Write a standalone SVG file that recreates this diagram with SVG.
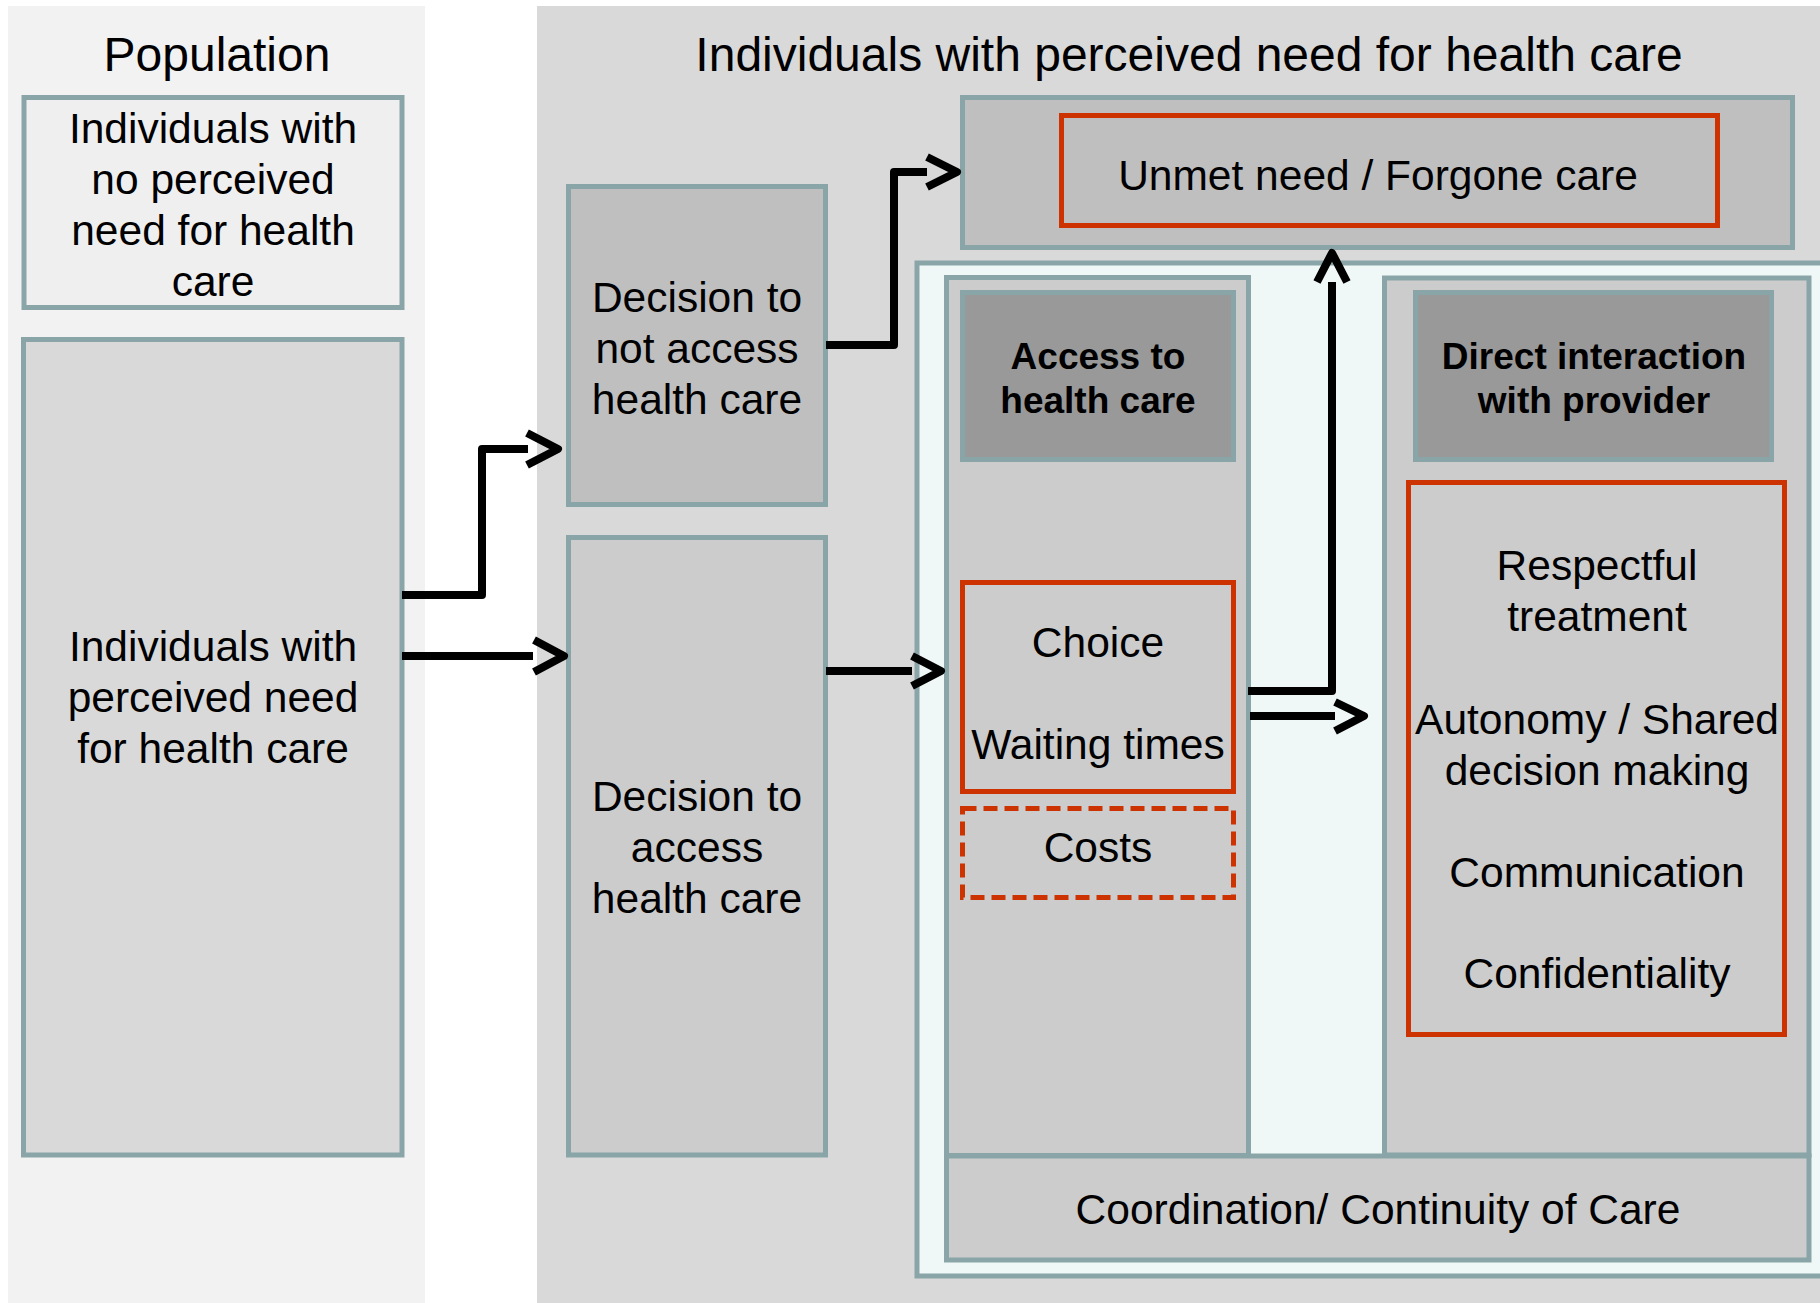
<svg xmlns="http://www.w3.org/2000/svg" width="1820" height="1303" viewBox="0 0 1820 1303">
<style>
.box{stroke:#89a5a8;stroke-width:5}
.red{fill:none;stroke:#cc3300;stroke-width:5}
.t{font-family:"Liberation Sans",Arial,Helvetica,sans-serif;font-size:42.5px;fill:#000;text-anchor:middle}
.title{font-size:48px}
.b{font-weight:bold;font-size:37px}
.ln{fill:none;stroke:#000;stroke-width:8;stroke-linejoin:round}
</style>
<rect width="1820" height="1303" fill="#ffffff"/>
<g id="population-panel">
<rect x="8" y="6" width="417" height="1297" fill="#f2f2f2"/>
<text class="t title" x="217" y="71">Population</text>
</g>
<g id="perceived-panel">
<rect x="537" y="6" width="1283" height="1297" fill="#d9d9d9"/>
<text class="t title" x="1189" y="71">Individuals with perceived need for health care</text>
</g>
<g id="no-need">
<rect class="box" x="24" y="97.5" width="378" height="210" fill="#efefef"/>
<text class="t" x="213" y="143">Individuals with</text>
<text class="t" x="213" y="194">no perceived</text>
<text class="t" x="213" y="245">need for health</text>
<text class="t" x="213" y="296">care</text>
</g>
<g id="perceived-need">
<rect class="box" x="23.5" y="339.5" width="378.5" height="815.5" fill="#d9d9d9"/>
<text class="t" x="213" y="661">Individuals with</text>
<text class="t" x="213" y="712">perceived need</text>
<text class="t" x="213" y="763">for health care</text>
</g>
<g id="decision-not-access">
<rect class="box" x="568.5" y="186.5" width="257" height="318" fill="#bfbfbf"/>
<text class="t" x="697" y="312">Decision to</text>
<text class="t" x="697" y="363">not access</text>
<text class="t" x="697" y="414">health care</text>
</g>
<g id="decision-access">
<rect class="box" x="568.5" y="537.5" width="257" height="617.5" fill="#cccccc"/>
<text class="t" x="697" y="811">Decision to</text>
<text class="t" x="697" y="862">access</text>
<text class="t" x="697" y="913">health care</text>
</g>
<g id="unmet-need">
<rect class="box" x="962.5" y="97.5" width="830" height="150" fill="#bfbfbf"/>
<rect class="red" x="1061.5" y="115.5" width="656" height="110"/>
<text class="t" x="1378" y="190">Unmet need / Forgone care</text>
</g>
<g id="care-panel">
<rect class="box" x="917" y="263" width="920" height="1013" fill="#f0f8f7"/>
</g>
<g id="access-column">
<rect class="box" x="946.5" y="277.5" width="302" height="878" fill="#cccccc"/>
<rect class="box" x="962.5" y="292.5" width="271" height="167" fill="#999999"/>
<text class="t b" x="1098" y="369">Access to</text>
<text class="t b" x="1098" y="413">health care</text>
</g>
<g id="choice-waiting">
<rect class="red" x="962.5" y="582.5" width="271" height="209"/>
<text class="t" x="1098" y="657">Choice</text>
<text class="t" x="1098" y="759">Waiting times</text>
</g>
<g id="costs">
<rect class="red" x="962.5" y="808.5" width="271" height="89" stroke-dasharray="14 7"/>
<text class="t" x="1098" y="862">Costs</text>
</g>
<g id="direct-column">
<rect class="box" x="1384.5" y="278" width="424.5" height="877" fill="#cccccc"/>
<rect class="box" x="1415.5" y="292.5" width="356" height="167" fill="#999999"/>
<text class="t b" x="1594" y="369">Direct interaction</text>
<text class="t b" x="1594" y="413">with provider</text>
</g>
<g id="provider-aspects">
<rect class="red" x="1408.5" y="482.5" width="376" height="552"/>
<text class="t" x="1597" y="580">Respectful</text>
<text class="t" x="1597" y="631">treatment</text>
<text class="t" x="1597" y="734">Autonomy / Shared</text>
<text class="t" x="1597" y="785">decision making</text>
<text class="t" x="1597" y="887">Communication</text>
<text class="t" x="1597" y="988">Confidentiality</text>
</g>
<g id="coordination">
<rect class="box" x="946.5" y="1156" width="862.5" height="104" fill="#cccccc"/>
<text class="t" x="1378" y="1224">Coordination/ Continuity of Care</text>
</g>
<g id="connectors">
<path class="ln" d="M402,595 H482 V449 H528"/>
<path class="ln" d="M527,433 L558,449 L527,465"/>
<path class="ln" d="M402,656 H533"/>
<path class="ln" d="M534,640 L564,656 L534,672"/>
<path class="ln" d="M826,671 H912"/>
<path class="ln" d="M912,656 L941,671 L912,686"/>
<path class="ln" d="M826,345 H894 V172 H927"/>
<path class="ln" d="M927,157 L957,172 L927,187"/>
<path class="ln" d="M1248,691 H1332 V282"/>
<path class="ln" d="M1317,282 L1332,253 L1347,282"/>
<path class="ln" d="M1250,716 H1335"/>
<path class="ln" d="M1335,702 L1364,716 L1335,731"/>
</g>
</svg>
